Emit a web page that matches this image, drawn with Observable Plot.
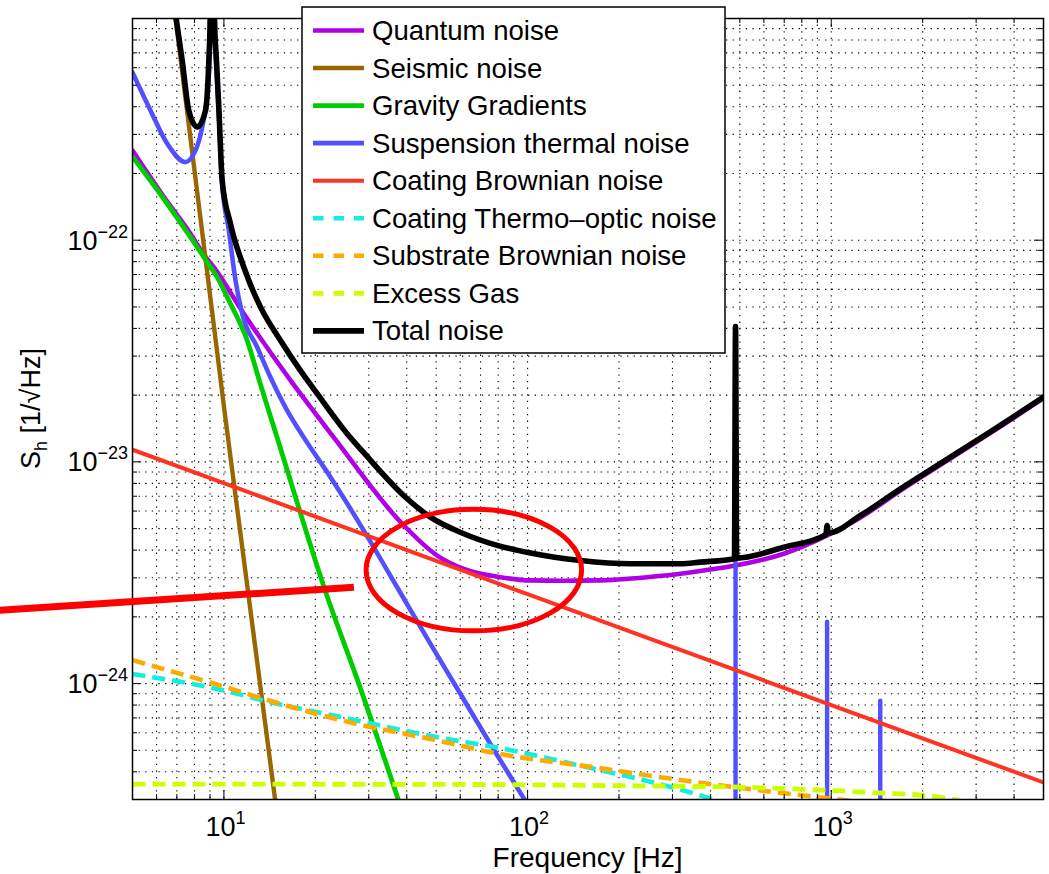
<!DOCTYPE html>
<html>
<head>
<meta charset="utf-8">
<script src="https://cdn.jsdelivr.net/npm/d3@7"></script>
<script src="https://cdn.jsdelivr.net/npm/@observablehq/plot@0.6"></script>
<style>
  html, body { margin: 0; padding: 0; background: #fff; }
  #chart { width: 1049px; height: 874px; }
</style>
</head>
<body>
<div id="chart"></div>
<script>
const FONT = '"Liberation Sans", Arial, Helvetica, sans-serif';

// ---------- data: [frequency (Hz), strain noise (1/sqrt(Hz))] ----------
const quantumNoise = [[5, 2.54e-22], [6.34, 1.57e-22], [7.76, 1.07e-22], [8.59, 8.6e-23], [9.26, 7.55e-23], [11.63, 4.66e-23], [16.57, 2.33e-23], [23.0, 1.29e-23], [38.64, 5.26e-24], [50.4, 3.78e-24], [61.65, 3.29e-24], [81.4, 3.02e-24], [102.2, 2.92e-24], [131.6, 2.91e-24], [169.5, 2.92e-24], [247.6, 3.02e-24], [318.7, 3.13e-24], [410.3, 3.29e-24], [483.6, 3.41e-24], [697.6, 3.85e-24], [969.4, 4.66e-24], [1248, 5.61e-24], [1690, 7.43e-24], [2469, 1.036e-23], [3606, 1.444e-23], [5000, 1.94e-23]];
const seismicNoise = [[6.93, 1e-21], [10.04, 1.705e-23], [14.74, 3e-25]];
const gravityGradients = [[5, 2.38e-22], [6.34, 1.534e-22], [7.76, 1.032e-22], [8.59, 8.38e-23], [9.5, 6.81e-23], [10.38, 5.35e-23], [11.93, 3.53e-23], [13.2, 2.23e-23], [14.79, 1.357e-23], [21.93, 2.45e-24], [27.8, 1.0e-24], [37.5, 3e-25]];
const suspensionThermal = [[5, 5.71e-22], [5.73, 3.85e-22], [6.51, 2.72e-22], [7.47, 2.25e-22], [8.06, 2.54e-22], [8.48, 3.23e-22], [8.81, 4.57e-22], [8.95, 6.2e-22], [9.03, 9.5e-22], [9.15, 1e-19], [9.3, 9.5e-22], [9.44, 6.2e-22], [9.62, 3.75e-22], [9.86, 1.82e-22], [10.38, 1.106e-22], [10.92, 6.58e-23], [11.49, 4.66e-23], [12.87, 3.29e-23], [14.23, 2.41e-23], [16.16, 1.705e-23], [18.32, 1.29e-23], [22.44, 8.53e-24], [28.88, 4.9e-24], [37.2, 2.72e-24], [47.88, 1.51e-24], [58.65, 9.5e-25], [77.2, 5.06e-25], [97.7, 3e-25]];
const violinModes = [[484, 4.0e-23], [969, 1.89e-24], [1450, 8.33e-25]];
const coatingBrownian = [[5, 1.135e-23], [100, 2.53e-24], [5000, 3.58e-25]];
const coatingThermoOptic = [[5, 1.104e-24], [10.2, 9.25e-25], [13.71, 8.34e-25], [25, 7.01e-25], [51.67, 5.69e-25], [77.5, 5.18e-25], [169.3, 4.1e-25], [223.7, 3.76e-25], [302.8, 3.39e-25], [410, 3.0e-25]];
const substrateBrownian = [[5, 1.276e-24], [10.11, 9.64e-25], [13.71, 8.48e-25], [25, 6.77e-25], [51.67, 5.5e-25], [77.5, 4.87e-25], [169.3, 4.17e-25], [310.8, 3.69e-25], [614.4, 3.27e-25], [1155, 2.96e-25]];
const excessGas = [[5, 3.52e-25], [51.7, 3.51e-25], [173.9, 3.47e-25], [502, 3.41e-25], [1018, 3.29e-25], [1450, 3.21e-25], [1962, 3.14e-25], [2657, 2.97e-25]];
const totalNoise = [[6.96, 1e-21], [7.29, 6.46e-22], [7.66, 3.85e-22], [8.17, 3.24e-22], [8.7, 3.85e-22], [8.92, 6.46e-22], [9.01, 1e-21], [9.15, 1e-19], [9.31, 1e-21], [9.45, 6.46e-22], [9.63, 3.85e-22], [9.87, 1.86e-22], [10.51, 1.186e-22], [11.63, 7.55e-23], [13.2, 4.99e-23], [15.36, 3.53e-23], [17.87, 2.58e-23], [20.29, 2.03e-23], [25.46, 1.34e-23], [28.88, 1.1e-23], [40.13, 6.82e-24], [47.88, 5.63e-24], [61.65, 4.74e-24], [79.4, 4.2e-24], [102.2, 3.88e-24], [149.3, 3.59e-24], [218.2, 3.47e-24], [318.7, 3.47e-24], [371, 3.53e-24], [480, 3.66e-24], [484, 4.08e-23], [488, 3.68e-24], [697.6, 4.12e-24], [960, 4.7e-24], [969, 5.16e-24], [978, 4.78e-24], [1248, 5.73e-24], [1690, 7.56e-24], [2469, 1.05e-23], [3606, 1.46e-23], [5000, 1.96e-23]];

// annotations (in data units)
const annotationLine = [[1.8, 2.14e-24], [26.8, 2.72e-24]];
const ellipseFreqs = [29.5, 151.2];
const ellipseValues = [1.72e-24, 6.08e-24];

// legend
const seriesNames = ["Quantum noise", "Seismic noise", "Gravity Gradients", "Suspension thermal noise", "Coating Brownian noise", "Coating Thermo\u2013optic noise", "Substrate Brownian noise", "Excess Gas", "Total noise"];
const seriesColors = ["#b000e6", "#996600", "#00cc00", "#5050ff", "#ff3322", "#10f0e0", "#ffaa00", "#ccff00", "#000000"];
const seriesDashed = [false, false, false, false, false, true, true, true, false];
const seriesWidths = [4.6, 4.4, 4.8, 4.6, 4, 4.6, 4.6, 4.8, 5.6];
const seriesCurves = ["monotone-x", "linear", "monotone-x", "monotone-x", "linear", "monotone-x", "monotone-x", "monotone-x", "monotone-x"];

// axes
const xDomain = [5, 5000];
const yDomain = [3e-25, 1e-21];
const xMajorTicks = [10, 100, 1000];
const xTickExponents = ["1", "2", "3"];
const yMajorTicks = [1e-24, 1e-23, 1e-22];
const yTickExponents = ["\u221224", "\u221223", "\u221222"];
const xLabel = "Frequency [Hz]";

const W = 1049, H = 874;
const M = {top: 18, right: 6, bottom: 75, left: 132};
const frameW = W - M.left - M.right, frameH = H - M.top - M.bottom;

const xAll = d3.scaleLog().domain(xDomain).ticks();
const yAll = d3.scaleLog().domain(yDomain).ticks();
const inside = (v, dom) => v > dom[0] * 1.001 && v < dom[1] * 0.999;
const xGrid = xAll.filter(v => inside(v, xDomain));
const yGrid = yAll.filter(v => inside(v, yDomain));
const isMajor = v => Math.abs(Math.log10(v) - Math.round(Math.log10(v))) < 1e-6;
const xMinor = xGrid.filter(v => !isMajor(v));
const yMinor = yGrid.filter(v => !isMajor(v));

const fx = d => d[0], fy = d => d[1];
function curve(data, i) {
  return Plot.line(data, {
    x: fx, y: fy, stroke: seriesColors[i], strokeWidth: seriesWidths[i],
    strokeDasharray: seriesDashed[i] ? "13,7" : null,
    strokeLinecap: seriesDashed[i] ? "butt" : "round",
    curve: seriesCurves[i],
    clip: true
  });
}

function ellipseMark(index, scales) {
  const x = scales.x, y = scales.y;
  const xl = x(ellipseFreqs[0]), xr = x(ellipseFreqs[1]);
  const yb = y(ellipseValues[0]), yt = y(ellipseValues[1]);
  const g = d3.create("svg:g");
  g.append("ellipse")
    .attr("cx", (xl + xr) / 2).attr("cy", (yb + yt) / 2)
    .attr("rx", Math.abs(xr - xl) / 2).attr("ry", Math.abs(yb - yt) / 2)
    .attr("fill", "none").attr("stroke", "#ff0000").attr("stroke-width", 5);
  return g.node();
}

function labelsMark(index, scales, values, dims) {
  const x = scales.x, y = scales.y;
  const g = d3.create("svg:g").attr("font-family", FONT).attr("fill", "black");
  const bottom = dims.height - dims.marginBottom;
  xMajorTicks.forEach((v, i) => {
    const t = g.append("text").attr("x", x(v) + 2).attr("y", bottom + 37)
      .attr("text-anchor", "middle").attr("font-size", 27);
    t.append("tspan").text("10");
    t.append("tspan").attr("font-size", 18).attr("dy", -12).text(xTickExponents[i]);
  });
  yMajorTicks.forEach((v, i) => {
    const t = g.append("text").attr("x", dims.marginLeft - 4).attr("y", y(v) + 10)
      .attr("text-anchor", "end").attr("font-size", 27);
    t.append("tspan").text("10");
    t.append("tspan").attr("font-size", 18).attr("dy", -12).text(yTickExponents[i]);
  });
  g.append("text")
    .attr("x", dims.marginLeft + (dims.width - dims.marginLeft - dims.marginRight) / 2)
    .attr("y", dims.height - 7)
    .attr("text-anchor", "middle").attr("font-size", 28).text(xLabel);
  const yl = g.append("text")
    .attr("transform", `translate(40,${dims.marginTop + (dims.height - dims.marginTop - dims.marginBottom) / 2}) rotate(-90)`)
    .attr("text-anchor", "middle").attr("font-size", 27);
  yl.append("tspan").text("S");
  yl.append("tspan").attr("font-size", 18).attr("dy", 7).text("h");
  yl.append("tspan").attr("dy", -7).text(" [1/\u221AHz]");
  return g.node();
}

function legendMark() {
  const g = d3.create("svg:g").attr("font-family", FONT).attr("text-anchor", "start");
  g.append("rect").attr("x", 302).attr("y", 7).attr("width", 423).attr("height", 346)
    .attr("fill", "white").attr("stroke", "black").attr("stroke-width", 1.5);
  seriesNames.forEach((name, i) => {
    const cy = 30.5 + i * 37.55;
    g.append("line").attr("x1", 313).attr("x2", 364).attr("y1", cy).attr("y2", cy)
      .attr("stroke", seriesColors[i]).attr("stroke-width", seriesWidths[i])
      .attr("stroke-dasharray", seriesDashed[i] ? "10.5,10" : null);
    g.append("text").attr("x", 372).attr("y", cy + 9.5).attr("font-size", 27.6)
      .attr("text-anchor", "start").attr("fill", "black").text(name);
  });
  return g.node();
}

const gridStyle = {stroke: "#000", strokeWidth: 1.1, strokeDasharray: "1.3,5.3", strokeOpacity: 1};

const chart = Plot.plot({
  width: W, height: H,
  marginTop: M.top, marginRight: M.right, marginBottom: M.bottom, marginLeft: M.left,
  x: {type: "log", domain: xDomain, axis: null},
  y: {type: "log", domain: yDomain, axis: null},
  style: {background: "white", fontFamily: FONT, overflow: "visible"},
  marks: [
    Plot.ruleX(xGrid, {x: d => d, ...gridStyle}),
    Plot.ruleY(yGrid, {y: d => d, ...gridStyle}),
    curve(quantumNoise, 0),
    curve(seismicNoise, 1),
    curve(gravityGradients, 2),
    curve(suspensionThermal, 3),
    Plot.ruleX(violinModes, {x: fx, y1: yDomain[0], y2: fy, stroke: seriesColors[3], strokeWidth: 4.4, strokeLinecap: "round", clip: true}),
    curve(coatingBrownian, 4),
    curve(coatingThermoOptic, 5),
    curve(substrateBrownian, 6),
    curve(excessGas, 7),
    curve(totalNoise, 8),
    Plot.frame({stroke: "black", strokeWidth: 1.5}),
    // tick marks (inward, on all four sides)
    Plot.ruleX(xMinor, {x: d => d, insetTop: frameH - 5, stroke: "black"}),
    Plot.ruleX(xMinor, {x: d => d, insetBottom: frameH - 5, stroke: "black"}),
    Plot.ruleX(xMajorTicks, {x: d => d, insetTop: frameH - 9, stroke: "black"}),
    Plot.ruleX(xMajorTicks, {x: d => d, insetBottom: frameH - 9, stroke: "black"}),
    Plot.ruleY(yMinor, {y: d => d, insetRight: frameW - 5, stroke: "black"}),
    Plot.ruleY(yMinor, {y: d => d, insetLeft: frameW - 5, stroke: "black"}),
    Plot.ruleY(yMajorTicks, {y: d => d, insetRight: frameW - 9, stroke: "black"}),
    Plot.ruleY(yMajorTicks, {y: d => d, insetLeft: frameW - 9, stroke: "black"}),
    // annotations
    Plot.line(annotationLine, {x: fx, y: fy, stroke: "#ff0000", strokeWidth: 7, strokeLinecap: "butt"}),
    ellipseMark,
    legendMark,
    labelsMark
  ]
});

document.getElementById("chart").appendChild(chart);
</script>
</body>
</html>
